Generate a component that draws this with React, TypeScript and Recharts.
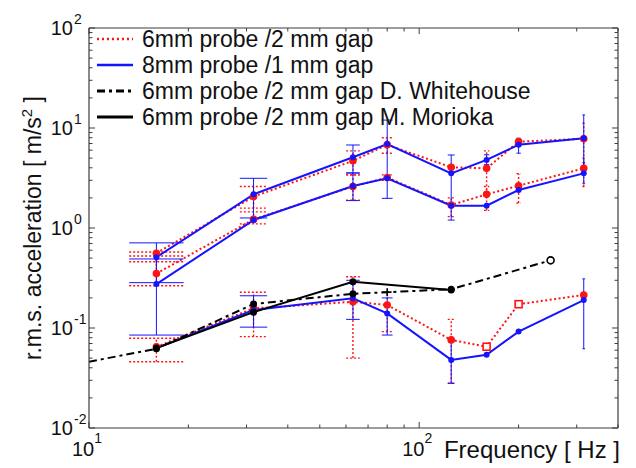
import React from 'react';
import { LineChart, Line, XAxis, YAxis, ErrorBar, Legend } from 'recharts';

const RED = '#ff1414';
const BLUE = '#1414ff';
const BLACK = '#000000';
const AXIS = '#3c3c3c';
const FONT = 'Arial, "Liberation Sans", Helvetica, sans-serif';

const W = 636;
const H = 468;
// axes are 1px thick, so the plot box ends up at 89..618 x 28..428
const MARGIN = { top: 27, right: 17, bottom: 39, left: 88 };
const X_DOMAIN: [number, number] = [10, 400];
const Y_DOMAIN: [number, number] = [0.01, 100];

// tick positions
const X_TICKS = [10, 20, 30, 40, 50, 60, 70, 80, 90, 100, 200, 300, 400];
const Y_DECADES = [0.01, 0.1, 1, 10, 100];
const Y_TICKS = Y_DECADES.flatMap((d, k) =>
  k === Y_DECADES.length - 1 ? [d] : [1, 2, 3, 4, 5, 6, 7, 8, 9].map((m) => +(m * d).toPrecision(3))
);

// 1/3 octave band centre frequencies [Hz]
const FREQ = [16, 31.5, 63, 80, 125, 160, 200, 315];

// 6mm probe / 2 mm gap (red, dotted)
const RED_HIGH = [0.56, 2.06, 4.7, 6.8, 4.05, 3.95, 7.3, 7.8];
const RED_MID = [0.35, 1.22, 2.6, 3.2, 1.7, 2.17, 2.65, 3.95];
const RED_LOW = [0.065, 0.157, 0.183, 0.17, 0.076, 0.065, 0.173, 0.214];

// 8mm probe / 1 mm gap (blue)
const BLUE_HIGH = [0.51, 2.17, 5.1, 6.9, 3.52, 4.8, 6.8, 7.9];
const BLUE_MID = [0.275, 1.2, 2.63, 3.14, 1.67, 1.67, 2.4, 3.52];
const BLUE_LOW = [0.063, 0.151, 0.198, 0.14, 0.048, 0.054, 0.092, 0.19];

// error bar bounds [min, max], null = none
type Bounds = [number, number] | null;
const RED_HIGH_ERR: Bounds[] = [[0.46, 0.575], [1.58, 2.6], [3.4, 5.9], [5.6, 8], null, [2.17, 5.9], null, [3.95, 11.2]];
const RED_MID_ERR: Bounds[] = [[0.265, 0.525], [1.1, 1.45], [1.9, 3.4], [3.0, 3.4], [1.3, 2.0], [1.5, 2.6], [1.78, 3.5], [2.6, 5]];
const RED_LOW_ERR: Bounds[] = [[0.046, 0.079], [0.082, 0.228], [0.05, 0.325], [0.092, 0.23], [0.028, 0.122], null, null, null];
const BLUE_HIGH_ERR: Bounds[] = [[0.284, 0.71], [1.26, 3.14], [3.55, 6.76], [1.98, 12], [1.2, 5.37], [4.3, 5.4], [5.6, 7.9], [3.52, 13.5]];
const BLUE_MID_ERR: Bounds[] = [[0.085, 0.49], null, [1.88, 3.55], null, null, null, null, [2.8, 4.5]];
const BLUE_LOW_ERR: Bounds[] = [null, [0.102, 0.21], [0.122, 0.3], [0.085, 0.2], [0.028, 0.076], null, null, [0.062, 0.31]];

// D. Whitehouse (dash-dot) and M. Morioka (solid black)
const WH_FREQ = [10, 16, 31.5, 63, 80, 125, 250];
const WH_VAL = [0.046, 0.062, 0.174, 0.22, 0.228, 0.244, 0.475];
const MOR_FREQ = [16, 31.5, 63, 125];
const MOR_VAL = [0.063, 0.144, 0.29, 0.24];

const LEGEND_ITEMS = [
  { label: '6mm probe /2 mm gap', color: RED, dash: '2 3', width: 2.5 },
  { label: '8mm probe /1 mm gap', color: BLUE, dash: undefined, width: 2.5 },
  { label: '6mm probe /2 mm gap D. Whitehouse', color: BLACK, dash: '8 4 3 4', width: 3 },
  { label: '6mm probe /2 mm gap M. Morioka', color: BLACK, dash: undefined, width: 3 },
];

type Row = { f: number; v: number; i: number; err?: [number, number] };

const toRows = (freq: number[], vals: number[], errs?: Bounds[]): Row[] =>
  freq.map((f, i) => {
    const b = errs ? errs[i] : null;
    return { f, v: vals[i], i, err: b ? [vals[i] - b[0], b[1] - vals[i]] : undefined };
  });

// matlab errorbar tee: fixed width in Hz, so caps shrink on the log axis
const TEE_HZ = 3;
const DECADE_PX = (W - MARGIN.left - MARGIN.right - 2) / Math.log10(X_DOMAIN[1] / X_DOMAIN[0]);
const capHalf = (f: number) => 0.5 * DECADE_PX * (Math.log10(f + TEE_HZ) - Math.log10(f - TEE_HZ));

const isDecade = (v: number) => Math.abs(Math.log10(v) - Math.round(Math.log10(v))) < 1e-6;

function XTick(props: any) {
  const { x, y, payload, top } = props;
  const major = isDecade(payload.value);
  const len = major ? 6 : 3.5;
  const dir = top ? 1 : -1;
  return (
    <g>
      <line x1={x} y1={y} x2={x} y2={y + dir * len} stroke={AXIS} strokeWidth={1} />
      {!top && major && payload.value < 400 && (
        <text x={x - 2} y={y + 28} textAnchor="middle" fontSize={20} fontFamily={FONT} fill="#111">
          10
          <tspan dy={-13} fontSize={14}>
            {Math.round(Math.log10(payload.value))}
          </tspan>
        </text>
      )}
    </g>
  );
}

function YTick(props: any) {
  const { x, y, payload, right } = props;
  const major = isDecade(payload.value);
  const len = major ? 6 : 3.5;
  const dir = right ? -1 : 1;
  return (
    <g>
      <line x1={x} y1={y} x2={x + dir * len} y2={y} stroke={AXIS} strokeWidth={1} />
      {!right && major && (
        <g fontFamily={FONT} fill="#111">
          <text x={x - 16} y={y + 7} textAnchor="end" fontSize={20}>
            10
          </text>
          <text x={x - 15} y={y - 4} textAnchor="start" fontSize={14}>
            {Math.round(Math.log10(payload.value))}
          </text>
        </g>
      )}
    </g>
  );
}

function LegendBox() {
  return (
    <div style={{ fontFamily: FONT, fontSize: 23, color: '#111', lineHeight: '26px' }}>
      {LEGEND_ITEMS.map((it) => (
        <div key={it.label} style={{ display: 'flex', alignItems: 'center', height: 26, whiteSpace: 'nowrap' }}>
          <svg width={46} height={26}>
            <line x1={1} y1={13} x2={37} y2={13} stroke={it.color} strokeWidth={it.width} strokeDasharray={it.dash} />
          </svg>
          <span>{it.label}</span>
        </div>
      ))}
    </div>
  );
}

function errorBars(color: string, dashed: boolean) {
  return FREQ.map((f, i) => (
    <ErrorBar
      key={`eb-${i}`}
      dataKey={(d: Row) => (d.i === i ? d.err : undefined)}
      direction="y"
      width={capHalf(f)}
      stroke={color}
      strokeWidth={dashed ? 1.4 : 1}
      strokeDasharray={dashed ? '2 2' : undefined}
      isAnimationActive={false}
    />
  ));
}

const whDot = (p: any) => {
  const { cx, cy, index } = p;
  const key = `wh-${index}`;
  if (index === 0) return <g key={key} />;
  if (index === WH_FREQ.length - 1)
    return <circle key={key} cx={cx} cy={cy} r={3.5} fill="#fff" stroke={BLACK} strokeWidth={1.6} />;
  if (index === 4)
    return (
      <path key={key} d={`M${cx - 4},${cy}H${cx + 4}M${cx},${cy - 4}V${cy + 4}`} stroke={BLACK} strokeWidth={1.6} />
    );
  return <circle key={key} cx={cx} cy={cy} r={3.5} fill={BLACK} />;
};

// lowest red curve uses open squares at 160 and 200 Hz
const redLowDot = (p: any) => {
  const { cx, cy, index } = p;
  const key = `rl-${index}`;
  if (index === 5 || index === 6)
    return <rect key={key} x={cx - 3.5} y={cy - 3.5} width={7} height={7} fill="#fff" stroke={RED} strokeWidth={1.6} />;
  return <circle key={key} cx={cx} cy={cy} r={3.8} fill={RED} />;
};

const axisCommon = {
  type: 'number' as const,
  scale: 'log' as const,
  interval: 0,
  allowDataOverflow: true,
  tickSize: 0,
  tickMargin: 0,
  tickLine: false,
  axisLine: { stroke: AXIS, strokeWidth: 1.2 },
};

export default function App() {
  const redSeries = [
    toRows(FREQ, RED_HIGH, RED_HIGH_ERR),
    toRows(FREQ, RED_MID, RED_MID_ERR),
    toRows(FREQ, RED_LOW, RED_LOW_ERR),
  ];
  const blueSeries = [
    toRows(FREQ, BLUE_HIGH, BLUE_HIGH_ERR),
    toRows(FREQ, BLUE_MID, BLUE_MID_ERR),
    toRows(FREQ, BLUE_LOW, BLUE_LOW_ERR),
  ];
  const whitehouse = toRows(WH_FREQ, WH_VAL);
  const morioka = toRows(MOR_FREQ, MOR_VAL);

  return (
    <div style={{ position: 'absolute', left: 0, top: 0, width: W, height: H, background: '#fff' }}>
      <LineChart width={W} height={H} margin={MARGIN}>
        <XAxis
          {...axisCommon}
          dataKey="f"
          domain={X_DOMAIN}
          ticks={X_TICKS}
          height={1}
          tick={(p: any) => <XTick {...p} />}
          label={{
            content: (lp: any) => {
              const vb = lp.viewBox;
              return (
                <text x={vb.x + vb.width + 2} y={vb.y + 30} textAnchor="end" fontSize={24} fontFamily={FONT} fill="#111">
                  Frequency [ Hz ]
                </text>
              );
            },
          }}
        />
        <XAxis
          {...axisCommon}
          xAxisId="top"
          orientation="top"
          dataKey="f"
          domain={X_DOMAIN}
          ticks={X_TICKS}
          height={1}
          tick={(p: any) => <XTick {...p} top />}
        />
        <YAxis
          {...axisCommon}
          domain={Y_DOMAIN}
          ticks={Y_TICKS}
          width={1}
          tick={(p: any) => <YTick {...p} />}
          label={{
            content: (lp: any) => {
              const vb = lp.viewBox;
              const cx = vb.x - 47;
              const cy = vb.y + vb.height / 2;
              return (
                <text
                  x={cx}
                  y={cy}
                  transform={`rotate(-90 ${cx} ${cy})`}
                  textAnchor="middle"
                  fontSize={23}
                  fontFamily={FONT}
                  fill="#111"
                >
                  r.m.s. acceleration [ m/s
                  <tspan dy={-9} fontSize={15}>
                    2
                  </tspan>
                  <tspan dy={9}> ]</tspan>
                </text>
              );
            },
          }}
        />
        <YAxis
          {...axisCommon}
          yAxisId="right"
          orientation="right"
          domain={Y_DOMAIN}
          ticks={Y_TICKS}
          width={1}
          tick={(p: any) => <YTick {...p} right />}
        />

        {redSeries.map((rows, k) => (
          <Line
            key={`red-${k}`}
            data={rows}
            dataKey="v"
            stroke={RED}
            strokeWidth={2}
            strokeDasharray="2 2.5"
            dot={k === 2 ? redLowDot : { r: 3.8, fill: RED, stroke: RED, strokeWidth: 0, strokeDasharray: '0' }}
            activeDot={false}
            isAnimationActive={false}
          >
            {errorBars(RED, true)}
          </Line>
        ))}
        {blueSeries.map((rows, k) => (
          <Line
            key={`blue-${k}`}
            data={rows}
            dataKey="v"
            stroke={BLUE}
            strokeWidth={2}
            dot={{ r: 3, fill: BLUE, stroke: BLUE, strokeWidth: 0 }}
            activeDot={false}
            isAnimationActive={false}
          >
            {errorBars(BLUE, false)}
          </Line>
        ))}
        <Line
          data={whitehouse}
          dataKey="v"
          stroke={BLACK}
          strokeWidth={2}
          strokeDasharray="8 4 3 4"
          dot={whDot}
          activeDot={false}
          isAnimationActive={false}
        />
        <Line
          data={morioka}
          dataKey="v"
          stroke={BLACK}
          strokeWidth={2}
          dot={{ r: 3.5, fill: BLACK, stroke: BLACK, strokeWidth: 0 }}
          activeDot={false}
          isAnimationActive={false}
        />

        <Legend
          layout="vertical"
          align="center"
          verticalAlign="middle"
          wrapperStyle={{ top: 26, left: 96, width: 'auto', height: 'auto' }}
          content={() => <LegendBox />}
        />
      </LineChart>
    </div>
  );
}
